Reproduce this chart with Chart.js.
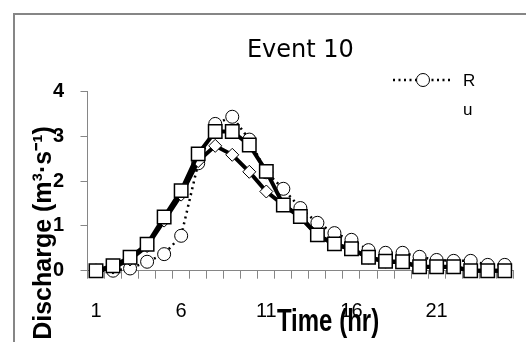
<!DOCTYPE html>
<html>
<head>
<meta charset="utf-8">
<script src="https://cdn.jsdelivr.net/npm/chart.js@4.4.0/dist/chart.umd.min.js"></script>
<style>
  html, body { margin: 0; padding: 0; background: #fff; }
  #wrap { position: relative; width: 526px; height: 342px; overflow: hidden; }
  #frame { position: absolute; left: 13px; top: 13px; width: 600px; height: 400px;
           border-top: 2px solid #868686; border-left: 2px solid #868686; }
  #chart { position: absolute; left: 0; top: 0; }
</style>
</head>
<body>
<div id="wrap">
  <div id="frame"></div>
  <canvas id="chart" width="526" height="342"></canvas>
</div>
<script>
// time steps (hr)
const hours = ['1','2','3','4','5','6','7','8','9','10','11','12','13','14','15','16','17','18','19','20','21','22','23','24','25'];

// open squares, heavy line
const squares = [0, 0.11, 0.30, 0.59, 1.20, 1.79, 2.61, 3.11, 3.11, 2.81, 2.22, 1.47, 1.21, 0.80, 0.60, 0.49, 0.30, 0.21, 0.20, 0.09, 0.09, 0.09, 0, 0, 0];
// open diamonds, heavy line (mostly hidden under the squares)
const diamonds = [0, 0.07, 0.25, 0.55, 1.12, 1.70, 2.45, 2.79, 2.59, 2.21, 1.77, 1.47, 1.19, 0.79, 0.59, 0.48, 0.29, 0.20, 0.19, 0.08, 0.08, 0.08, 0, 0, 0];
// open circles, dotted line
const circles = [0, 0, 0.05, 0.20, 0.37, 0.78, 2.40, 3.28, 3.44, 2.93, 2.20, 1.83, 1.40, 1.07, 0.84, 0.69, 0.46, 0.40, 0.40, 0.31, 0.24, 0.22, 0.22, 0.13, 0.13];

const yTicks = [0, 1, 2, 3, 4];
const legendLabels = ['R', 'u'];
const chartTitle = 'Event 10';
const xTitle = 'Time (hr)';
const yTitle = 'Discharge (m³·s⁻¹)';

const sans = "'Liberation Sans', Arial, sans-serif";

// axis titles sit where the original put them (overlapping the tick labels)
const axisTitles = {
    id: 'axisTitles',
    afterDraw(chart) {
        const ctx = chart.ctx;
        ctx.save();
        ctx.fillStyle = '#000';
        ctx.textAlign = 'center';
        ctx.textBaseline = 'middle';
        ctx.save();
        ctx.translate(328, 322);
        ctx.scale(1, 1.3);
        ctx.font = "bold 24px " + sans;
        ctx.fillText(xTitle, 0, 0);
        ctx.restore();
        ctx.translate(44, 233);
        ctx.rotate(-Math.PI / 2);
        ctx.font = "bold 25px " + sans;
        ctx.fillText(yTitle, 0, 0);
        ctx.restore();
    }
};

// small legend in the top right corner
const cornerLegend = {
    id: 'cornerLegend',
    afterDraw(chart) {
        const ctx = chart.ctx;
        const ds = chart.data.datasets[2];
        ctx.save();
        ctx.strokeStyle = '#000';
        ctx.lineWidth = 2.5;
        ctx.setLineDash([2, 3.5]);
        ctx.beginPath();
        ctx.moveTo(393, 80);
        ctx.lineTo(453, 80);
        ctx.stroke();
        ctx.setLineDash([]);
        ctx.fillStyle = '#fff';
        ctx.lineWidth = 1;
        Chart.helpers.drawPoint(ctx, { pointStyle: ds.pointStyle, radius: ds.pointRadius, borderWidth: 1, rotation: 0 }, 423, 80);
        ctx.fillStyle = '#000';
        ctx.font = "17px " + sans;
        ctx.textAlign = 'left';
        ctx.textBaseline = 'middle';
        ctx.fillText(legendLabels[0], 463, 81);
        ctx.fillText(legendLabels[1], 463, 110);
        ctx.restore();
    }
};

const ctx = document.getElementById('chart').getContext('2d');
new Chart(ctx, {
    type: 'line',
    data: {
        labels: hours,
        datasets: [
            {
                label: legendLabels[1],
                data: squares,
                borderColor: '#000',
                borderWidth: 4,
                pointStyle: 'rect',
                pointRadius: 9.5,
                pointBorderWidth: 1.5,
                pointBorderColor: '#000',
                pointBackgroundColor: '#fff',
                clip: false
            },
            {
                label: '',
                data: diamonds,
                borderColor: '#000',
                borderWidth: 4,
                pointStyle: 'rectRot',
                pointRadius: 6.5,
                pointBorderWidth: 1,
                pointBorderColor: '#000',
                pointBackgroundColor: '#fff',
                clip: false
            },
            {
                label: legendLabels[0],
                data: circles,
                borderColor: '#000',
                borderWidth: 2.5,
                borderDash: [2, 4],
                pointStyle: 'circle',
                pointRadius: 6.5,
                pointBorderWidth: 1,
                pointBorderColor: '#000',
                pointBackgroundColor: '#fff',
                clip: false
            }
        ]
    },
    options: {
        responsive: false,
        animation: false,
        layout: { padding: { left: 0, right: 8.5, top: 0, bottom: 0 } },
        plugins: {
            legend: { display: false },
            tooltip: { enabled: false },
            title: {
                display: true,
                text: chartTitle,
                fullSize: false,
                color: '#000',
                font: { family: 'DejaVu Sans', size: 24, weight: 'normal', lineHeight: 1.2 },
                padding: { top: 36.6, bottom: 26.3 }
            }
        },
        scales: {
            x: {
                offset: true,
                grid: { offset: true, drawOnChartArea: false, color: '#868686', tickLength: 8 },
                border: { color: '#868686' },
                ticks: {
                    autoSkip: false,
                    maxRotation: 0,
                    color: '#000',
                    padding: 21,
                    font: { family: sans, size: 20 },
                    callback: (v, i) => (i % 5 === 0 ? hours[i] : '')
                },
                afterFit: s => { s.height = 71.3; }
            },
            y: {
                min: 0,
                max: 4,
                afterBuildTicks: s => { s.ticks = yTicks.map(v => ({ value: v })); },
                grid: { drawOnChartArea: false, color: '#868686', tickLength: 7 },
                border: { color: '#868686' },
                ticks: {
                    color: '#000',
                    padding: 16.5,
                    font: { family: sans, size: 20, weight: 'bold' }
                },
                afterFit: s => { s.width = 87.5; }
            }
        }
    },
    plugins: [axisTitles, cornerLegend]
});
</script>
</body>
</html>
